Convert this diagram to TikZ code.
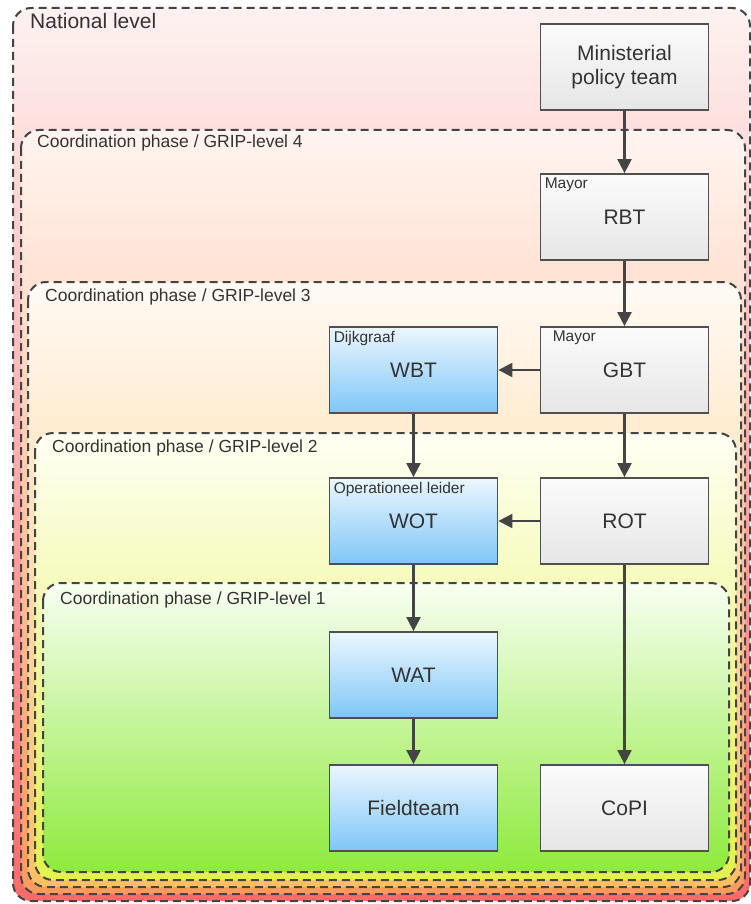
\documentclass[tikz,border=0pt]{standalone}
\usepackage{fontspec}
\setmainfont{Liberation Sans}
\usetikzlibrary{arrows.meta}
\definecolor{txt}{HTML}{333333}
\definecolor{dash}{HTML}{444444}
\definecolor{boxline}{HTML}{505050}
\definecolor{natT}{HTML}{FDF2F0}
\definecolor{natB}{HTML}{FF6A6A}
\definecolor{lfT}{HTML}{FFF4F0}
\definecolor{lfB}{HTML}{FF9A5C}
\definecolor{lthT}{HTML}{FFFAF5}
\definecolor{lthB}{HTML}{FFC060}
\definecolor{ltwT}{HTML}{FFFFF4}
\definecolor{ltwB}{HTML}{E2F24C}
\definecolor{loT}{HTML}{F8FFF2}
\definecolor{loB}{HTML}{8EEA3C}
\definecolor{greyT}{HTML}{FBFBFB}
\definecolor{greyB}{HTML}{E6E6E6}
\definecolor{blueT}{HTML}{ECF7FE}
\definecolor{blueB}{HTML}{7EC6F8}
\begin{document}
\begin{tikzpicture}[x=1pt,y=-1pt,
  cont/.style={draw=dash, line width=2pt, dash pattern=on 8pt off 5pt, rounded corners=18pt},
  lab/.style={anchor=north west, inner sep=0pt, text=txt, font=\fontsize{17.5}{20}\selectfont},
  box/.style={draw=boxline, line width=1.8pt, minimum width=168pt, minimum height=86pt, inner sep=0pt,
    text=txt, align=center, font=\fontsize{21}{24}\selectfont, top color=greyT, bottom color=greyB},
  bluebox/.style={box, top color=blueT, bottom color=blueB},
  small/.style={anchor=north west, inner sep=0pt, text=txt, font=\fontsize{15.5}{17}\selectfont},
  arr/.style={draw=dash, line width=2.2pt, -{Triangle[length=14pt,width=14pt]}}
]
\useasboundingbox (0,0) rectangle (751,904);
% containers
\shade[top color=natT, bottom color=natB, rounded corners=18pt] (13,8) rectangle (750,901);
\path[cont] (13,8) rectangle (750,901);
\shade[top color=lfT, bottom color=lfB, rounded corners=18pt] (21,130) rectangle (745,894);
\path[cont] (21,130) rectangle (745,894);
\shade[top color=lthT, bottom color=lthB, rounded corners=18pt] (28,282) rectangle (741,887);
\path[cont] (28,282) rectangle (741,887);
\shade[top color=ltwT, bottom color=ltwB, rounded corners=18pt] (35,433) rectangle (736,880);
\path[cont] (35,433) rectangle (736,880);
\shade[top color=loT, bottom color=loB, rounded corners=18pt] (43,583) rectangle (729,872);
\path[cont] (43,583) rectangle (729,872);
% labels
\node[lab, font=\fontsize{21}{24}\selectfont] (natlab) at (30,13) {National level};
\node[lab] (l4lab) at (37,135) {Coordination phase / GRIP-level 4};
\node[lab] (l3lab) at (45,289) {Coordination phase / GRIP-level 3};
\node[lab] (l2lab) at (52,440) {Coordination phase / GRIP-level 2};
\node[lab] (l1lab) at (60,592) {Coordination phase / GRIP-level 1};
% boxes
\node[box] (min) at (624.5,67) {Ministerial\\policy team};
\node[box] (rbt) at (624.5,217) {RBT};
\node[box] (gbt) at (624.5,370) {GBT};
\node[bluebox] (wbt) at (413.5,370) {WBT};
\node[bluebox] (wot) at (413.5,521) {WOT};
\node[box] (rot) at (624.5,521) {ROT};
\node[bluebox] (wat) at (413.5,675) {WAT};
\node[bluebox] (field) at (413.5,808) {Fieldteam};
\node[box] (copi) at (624.5,808) {CoPI};
% small labels
\node[small] (rbtm) at ([xshift=5pt,yshift=-5pt]rbt.north west) {Mayor};
\node[small] (gbtm) at ([xshift=13pt,yshift=-5pt]gbt.north west) {Mayor};
\node[small] (wbtd) at ([xshift=5pt,yshift=-5pt]wbt.north west) {Dijkgraaf};
\node[small] (wotl) at ([xshift=5pt,yshift=-5pt]wot.north west) {Operationeel leider};
% arrows
\draw[arr] (min) -- (rbt);
\draw[arr] (rbt) -- (gbt);
\draw[arr] (gbt) -- (rot);
\draw[arr] (rot) -- (copi);
\draw[arr] (gbt) -- (wbt);
\draw[arr] (wbt) -- (wot);
\draw[arr] (rot) -- (wot);
\draw[arr] (wot) -- (wat);
\draw[arr] (wat) -- (field);
\end{tikzpicture}
\end{document}
